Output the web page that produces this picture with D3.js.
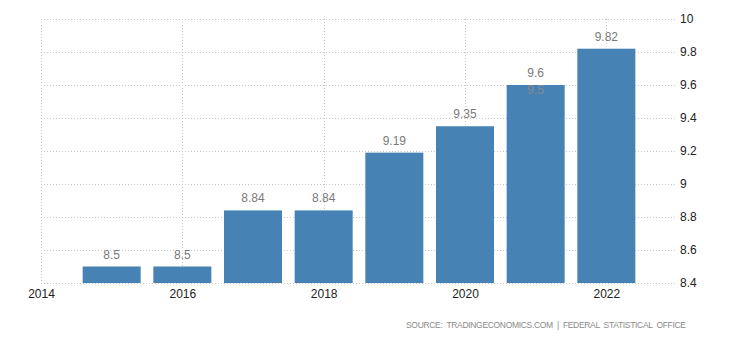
<!DOCTYPE html>
<html><head><meta charset="utf-8">
<script src="https://cdn.jsdelivr.net/npm/d3@7"></script>
<style>body{margin:0;background:#fff}svg{display:block}</style>
</head><body>
<svg id="c" width="730" height="340"></svg>
<script>
const years = [2015, 2016, 2017, 2018, 2019, 2020, 2021, 2022];
const values = [8.5, 8.5, 8.84, 8.84, 9.19, 9.35, 9.6, 9.82];
const forecastYears = [2021];
const forecastValues = [9.5];
const xTicks = [2014, 2016, 2018, 2020, 2022];
const yTicks = [8.4, 8.6, 8.8, 9, 9.2, 9.4, 9.6, 9.8, 10];
const source = "SOURCE:  TRADINGECONOMICS.COM  |  FEDERAL  STATISTICAL  OFFICE";

const svg = d3.select("#c");
const x = d3.scaleLinear().domain([2014, 2023]).range([41, 677]);
const y = d3.scaleLinear().domain([8.4, 10]).range([283, 19]);
const font = "'Liberation Sans', Arial, sans-serif";

// horizontal grid
svg.append("g").selectAll("line").data(yTicks).join("line")
  .attr("x1", 41).attr("x2", 677)
  .attr("y1", d => Math.round(y(d)) + 0.5).attr("y2", d => Math.round(y(d)) + 0.5)
  .attr("stroke", "#c8c8c8").attr("stroke-dasharray", "1,2");
// vertical grid
svg.append("g").selectAll("line").data(xTicks).join("line")
  .attr("x1", d => Math.round(x(d)) + 0.5).attr("x2", d => Math.round(x(d)) + 0.5)
  .attr("y1", 19).attr("y2", 283)
  .attr("stroke", "#c8c8c8").attr("stroke-dasharray", "1,2");

const bw = 58;
svg.append("g").selectAll("rect").data(years).join("rect")
  .attr("x", (d) => x(d) - bw / 2).attr("width", bw)
  .attr("y", (d, i) => y(values[i])).attr("height", (d, i) => y(8.4) - y(values[i]))
  .attr("fill", "#4682b4");

svg.append("g").selectAll("text").data(years).join("text")
  .attr("x", d => x(d)).attr("y", (d, i) => y(values[i]) - 8)
  .attr("text-anchor", "middle").attr("font-family", font).attr("font-size", 12)
  .attr("fill", "#7a7a7a").text((d, i) => values[i]);

svg.append("g").selectAll("text").data(forecastYears).join("text")
  .attr("x", d => x(d)).attr("y", (d, i) => y(forecastValues[i]) - 8)
  .attr("text-anchor", "middle").attr("font-family", font).attr("font-size", 12)
  .attr("fill", "#8a8a8a").text((d, i) => forecastValues[i]);

// axes
const yAxis = d3.axisRight(y).tickValues(yTicks).tickSize(0).tickPadding(0).tickFormat(d3.format("~g"));
const gy = svg.append("g").attr("transform", "translate(680,0)").call(yAxis);
gy.select(".domain").remove();
gy.selectAll("text").attr("font-family", font).attr("font-size", 12).attr("fill", "#222");

const xAxis = d3.axisBottom(x).tickValues(xTicks).tickSize(0).tickPadding(0).tickFormat(d3.format("d"));
const gx = svg.append("g").attr("transform", "translate(0,289)").call(xAxis);
gx.select(".domain").remove();
gx.selectAll("text").attr("font-family", font).attr("font-size", 12).attr("fill", "#222");

svg.append("text").attr("x", 406).attr("y", 328)
  .attr("textLength", 280).attr("lengthAdjust", "spacing")
  .attr("font-family", font).attr("font-size", 8.5)
  .attr("fill", "#8a8a8a").style("white-space", "pre").text(source);
</script>
</body></html>
